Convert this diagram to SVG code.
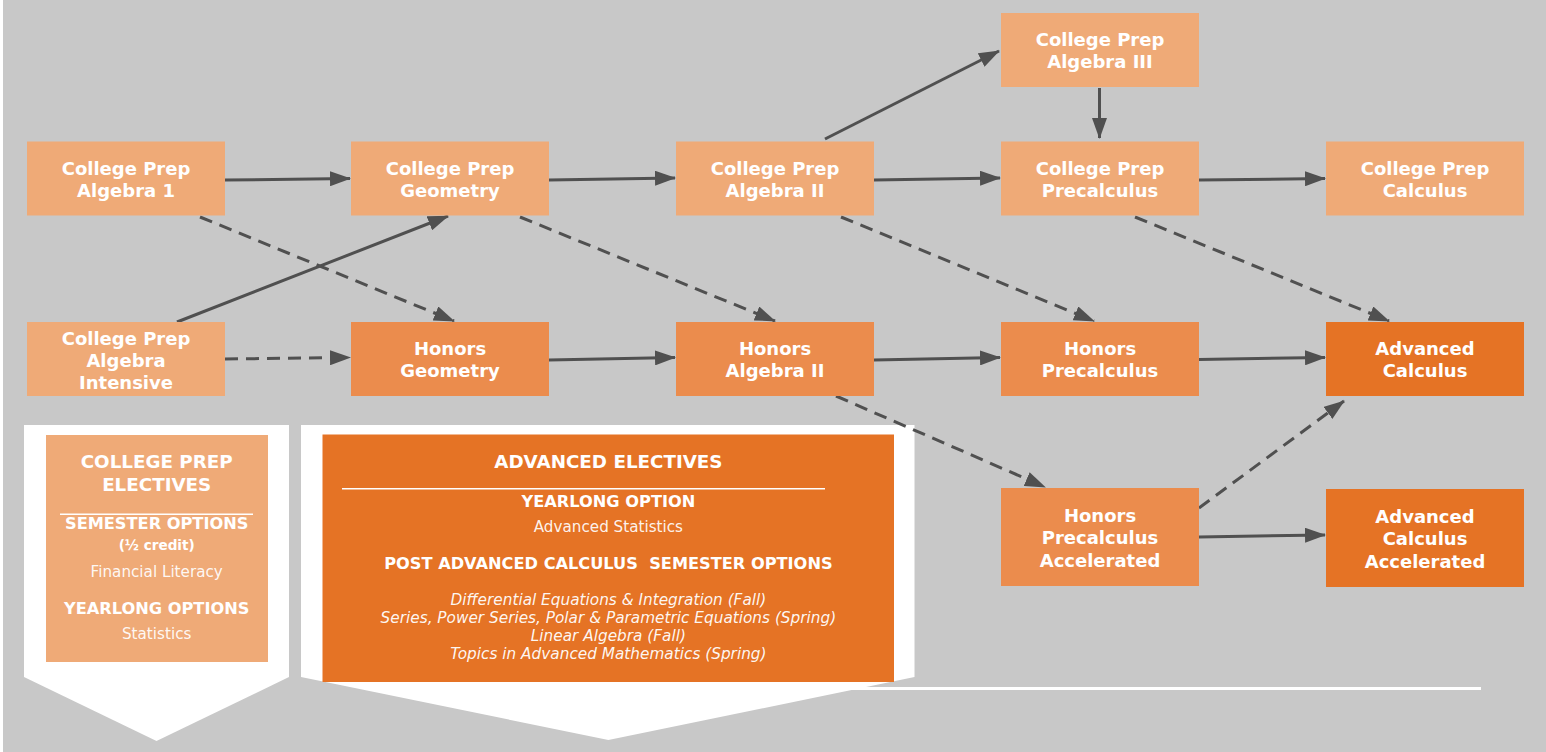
<svg xmlns="http://www.w3.org/2000/svg" width="1546" height="752" viewBox="0 0 1546 752">
<defs>
<style>
.bg{fill:#c8c8c8}
.cp{fill:#efaa77}
.hn{fill:#eb8c4d}
.ad{fill:#e57325}
.lbl{font-family:"DejaVu Sans","Liberation Sans",sans-serif;font-weight:700;font-size:18px;fill:#ffffff;text-anchor:middle}
.hd{font-family:"DejaVu Sans","Liberation Sans",sans-serif;font-weight:700;fill:#ffffff;text-anchor:middle}
.tx{font-family:"DejaVu Sans","Liberation Sans",sans-serif;font-weight:400;fill:#ffffff;fill-opacity:0.93;text-anchor:middle}
.it{font-family:"DejaVu Sans","Liberation Sans",sans-serif;font-style:italic;font-size:15.3px;fill:#ffffff;fill-opacity:0.95;text-anchor:middle}
.solid{stroke:#505050;stroke-width:3;fill:none;marker-end:url(#ah)}
.dash{stroke:#505050;stroke-width:3;fill:none;stroke-dasharray:13 8;marker-end:url(#ah)}
.div{stroke:#ffffff;stroke-width:1.5}
</style>
<marker id="ah" viewBox="0 0 21 15" refX="20" refY="7.5" markerWidth="21" markerHeight="15" markerUnits="userSpaceOnUse" orient="auto">
<path d="M0,0 L21,7.5 L0,15 Z" fill="#505050"/>
</marker>
</defs>
<rect class="bg" x="0" y="0" width="1546" height="752"/>
<rect x="0" y="0" width="3" height="752" fill="#ffffff"/>

<line x1="850" y1="688.5" x2="1481" y2="688.5" stroke="#ffffff" stroke-width="3"/>

<g id="panel-college-prep-electives">
<polygon points="24,425 289,425 289,677 156.5,741 24,677" fill="#ffffff"/>
<rect class="cp" x="46" y="435" width="222" height="227"/>
<text class="hd" x="156.7" y="468.3" font-size="18.3">COLLEGE PREP</text>
<text class="hd" x="156.7" y="490.7" font-size="18.3">ELECTIVES</text>
<line class="div" x1="60" y1="514.3" x2="253" y2="514.3"/>
<text class="hd" x="156.7" y="529.3" font-size="16.2">SEMESTER OPTIONS</text>
<text class="hd" x="156.7" y="550" font-size="13.6">(½ credit)</text>
<text class="tx" x="156.7" y="576.7" font-size="15.2">Financial Literacy</text>
<text class="hd" x="156.7" y="614.3" font-size="16.2">YEARLONG OPTIONS</text>
<text class="tx" x="156.7" y="639.3" font-size="15.2">Statistics</text>
</g>

<g id="panel-advanced-electives">
<polygon points="301,425 914.5,425 914.5,677 608.4,740 301,677" fill="#ffffff"/>
<rect class="ad" x="322.5" y="434.5" width="571.5" height="247.5"/>
<text class="hd" x="608.4" y="468.3" font-size="18.3">ADVANCED ELECTIVES</text>
<line class="div" x1="342" y1="488.7" x2="825" y2="488.7"/>
<text class="hd" x="608.4" y="506.7" font-size="16.2">YEARLONG OPTION</text>
<text class="tx" x="608.4" y="531.7" font-size="15.2">Advanced Statistics</text>
<text class="hd" x="608.4" y="569.3" font-size="16.2" style="white-space:pre">POST ADVANCED CALCULUS  SEMESTER OPTIONS</text>
<text class="it" x="608.4" y="605">Differential Equations &amp; Integration (Fall)</text>
<text class="it" x="608.4" y="623.3">Series, Power Series, Polar &amp; Parametric Equations (Spring)</text>
<text class="it" x="608.4" y="641">Linear Algebra (Fall)</text>
<text class="it" x="608.4" y="658.7">Topics in Advanced Mathematics (Spring)</text>
</g>

<g id="connectors">
<line class="solid" x1="225" y1="180" x2="350" y2="178.5"/>
<line class="solid" x1="549" y1="180" x2="675" y2="178"/>
<line class="solid" x1="874" y1="180" x2="1000" y2="178"/>
<line class="solid" x1="1199" y1="180" x2="1325" y2="178.5"/>
<line class="solid" x1="825" y1="139" x2="999" y2="51"/>
<line class="solid" x1="1099.5" y1="88" x2="1099.5" y2="138"/>
<line class="solid" x1="177" y1="322" x2="448" y2="216"/>
<line class="dash" x1="225" y1="359" x2="350" y2="357.5"/>
<line class="dash" x1="200" y1="217" x2="454" y2="321"/>
<line class="dash" x1="520" y1="217" x2="775" y2="321"/>
<line class="dash" x1="841" y1="217" x2="1094" y2="321"/>
<line class="dash" x1="1135" y1="217" x2="1389" y2="321"/>
<line class="solid" x1="549" y1="360" x2="675" y2="357.5"/>
<line class="solid" x1="874" y1="360" x2="1000" y2="357.5"/>
<line class="solid" x1="1199" y1="359.5" x2="1325" y2="357.5"/>
<line class="dash" x1="836" y1="396" x2="1045" y2="487"/>
<line class="dash" x1="1199" y1="508" x2="1344" y2="401"/>
<line class="solid" x1="1199" y1="537" x2="1325" y2="535"/>
</g>

<g id="cp-algebra-1">
<rect class="cp" x="27" y="141.5" width="198" height="74"/>
<text class="lbl" x="126" y="174.5">College Prep</text>
<text class="lbl" x="126" y="196.5">Algebra 1</text>
</g>
<g id="cp-geometry">
<rect class="cp" x="351" y="141.5" width="198" height="74"/>
<text class="lbl" x="450" y="174.5">College Prep</text>
<text class="lbl" x="450" y="196.5">Geometry</text>
</g>
<g id="cp-algebra-2">
<rect class="cp" x="676" y="141.5" width="198" height="74"/>
<text class="lbl" x="775" y="174.5">College Prep</text>
<text class="lbl" x="775" y="196.5">Algebra II</text>
</g>
<g id="cp-algebra-3">
<rect class="cp" x="1001" y="13" width="198" height="74"/>
<text class="lbl" x="1100" y="46">College Prep</text>
<text class="lbl" x="1100" y="68">Algebra III</text>
</g>
<g id="cp-precalculus">
<rect class="cp" x="1001" y="141.5" width="198" height="74"/>
<text class="lbl" x="1100" y="174.5">College Prep</text>
<text class="lbl" x="1100" y="196.5">Precalculus</text>
</g>
<g id="cp-calculus">
<rect class="cp" x="1326" y="141.5" width="198" height="74"/>
<text class="lbl" x="1425" y="174.5">College Prep</text>
<text class="lbl" x="1425" y="196.5">Calculus</text>
</g>
<g id="cp-algebra-intensive">
<rect class="cp" x="27" y="322" width="198" height="74"/>
<text class="lbl" x="126" y="345">College Prep</text>
<text class="lbl" x="126" y="367">Algebra</text>
<text class="lbl" x="126" y="389">Intensive</text>
</g>
<g id="honors-geometry">
<rect class="hn" x="351" y="322" width="198" height="74"/>
<text class="lbl" x="450" y="355">Honors</text>
<text class="lbl" x="450" y="377">Geometry</text>
</g>
<g id="honors-algebra-2">
<rect class="hn" x="676" y="322" width="198" height="74"/>
<text class="lbl" x="775" y="355">Honors</text>
<text class="lbl" x="775" y="377">Algebra II</text>
</g>
<g id="honors-precalculus">
<rect class="hn" x="1001" y="322" width="198" height="74"/>
<text class="lbl" x="1100" y="355">Honors</text>
<text class="lbl" x="1100" y="377">Precalculus</text>
</g>
<g id="advanced-calculus">
<rect class="ad" x="1326" y="322" width="198" height="74"/>
<text class="lbl" x="1425" y="355">Advanced</text>
<text class="lbl" x="1425" y="377">Calculus</text>
</g>
<g id="honors-precalculus-accelerated">
<rect class="hn" x="1001" y="488" width="198" height="98"/>
<text class="lbl" x="1100" y="521.5">Honors</text>
<text class="lbl" x="1100" y="544">Precalculus</text>
<text class="lbl" x="1100" y="566.5">Accelerated</text>
</g>
<g id="advanced-calculus-accelerated">
<rect class="ad" x="1326" y="489" width="198" height="98"/>
<text class="lbl" x="1425" y="522.5">Advanced</text>
<text class="lbl" x="1425" y="545">Calculus</text>
<text class="lbl" x="1425" y="567.5">Accelerated</text>
</g>
</svg>
